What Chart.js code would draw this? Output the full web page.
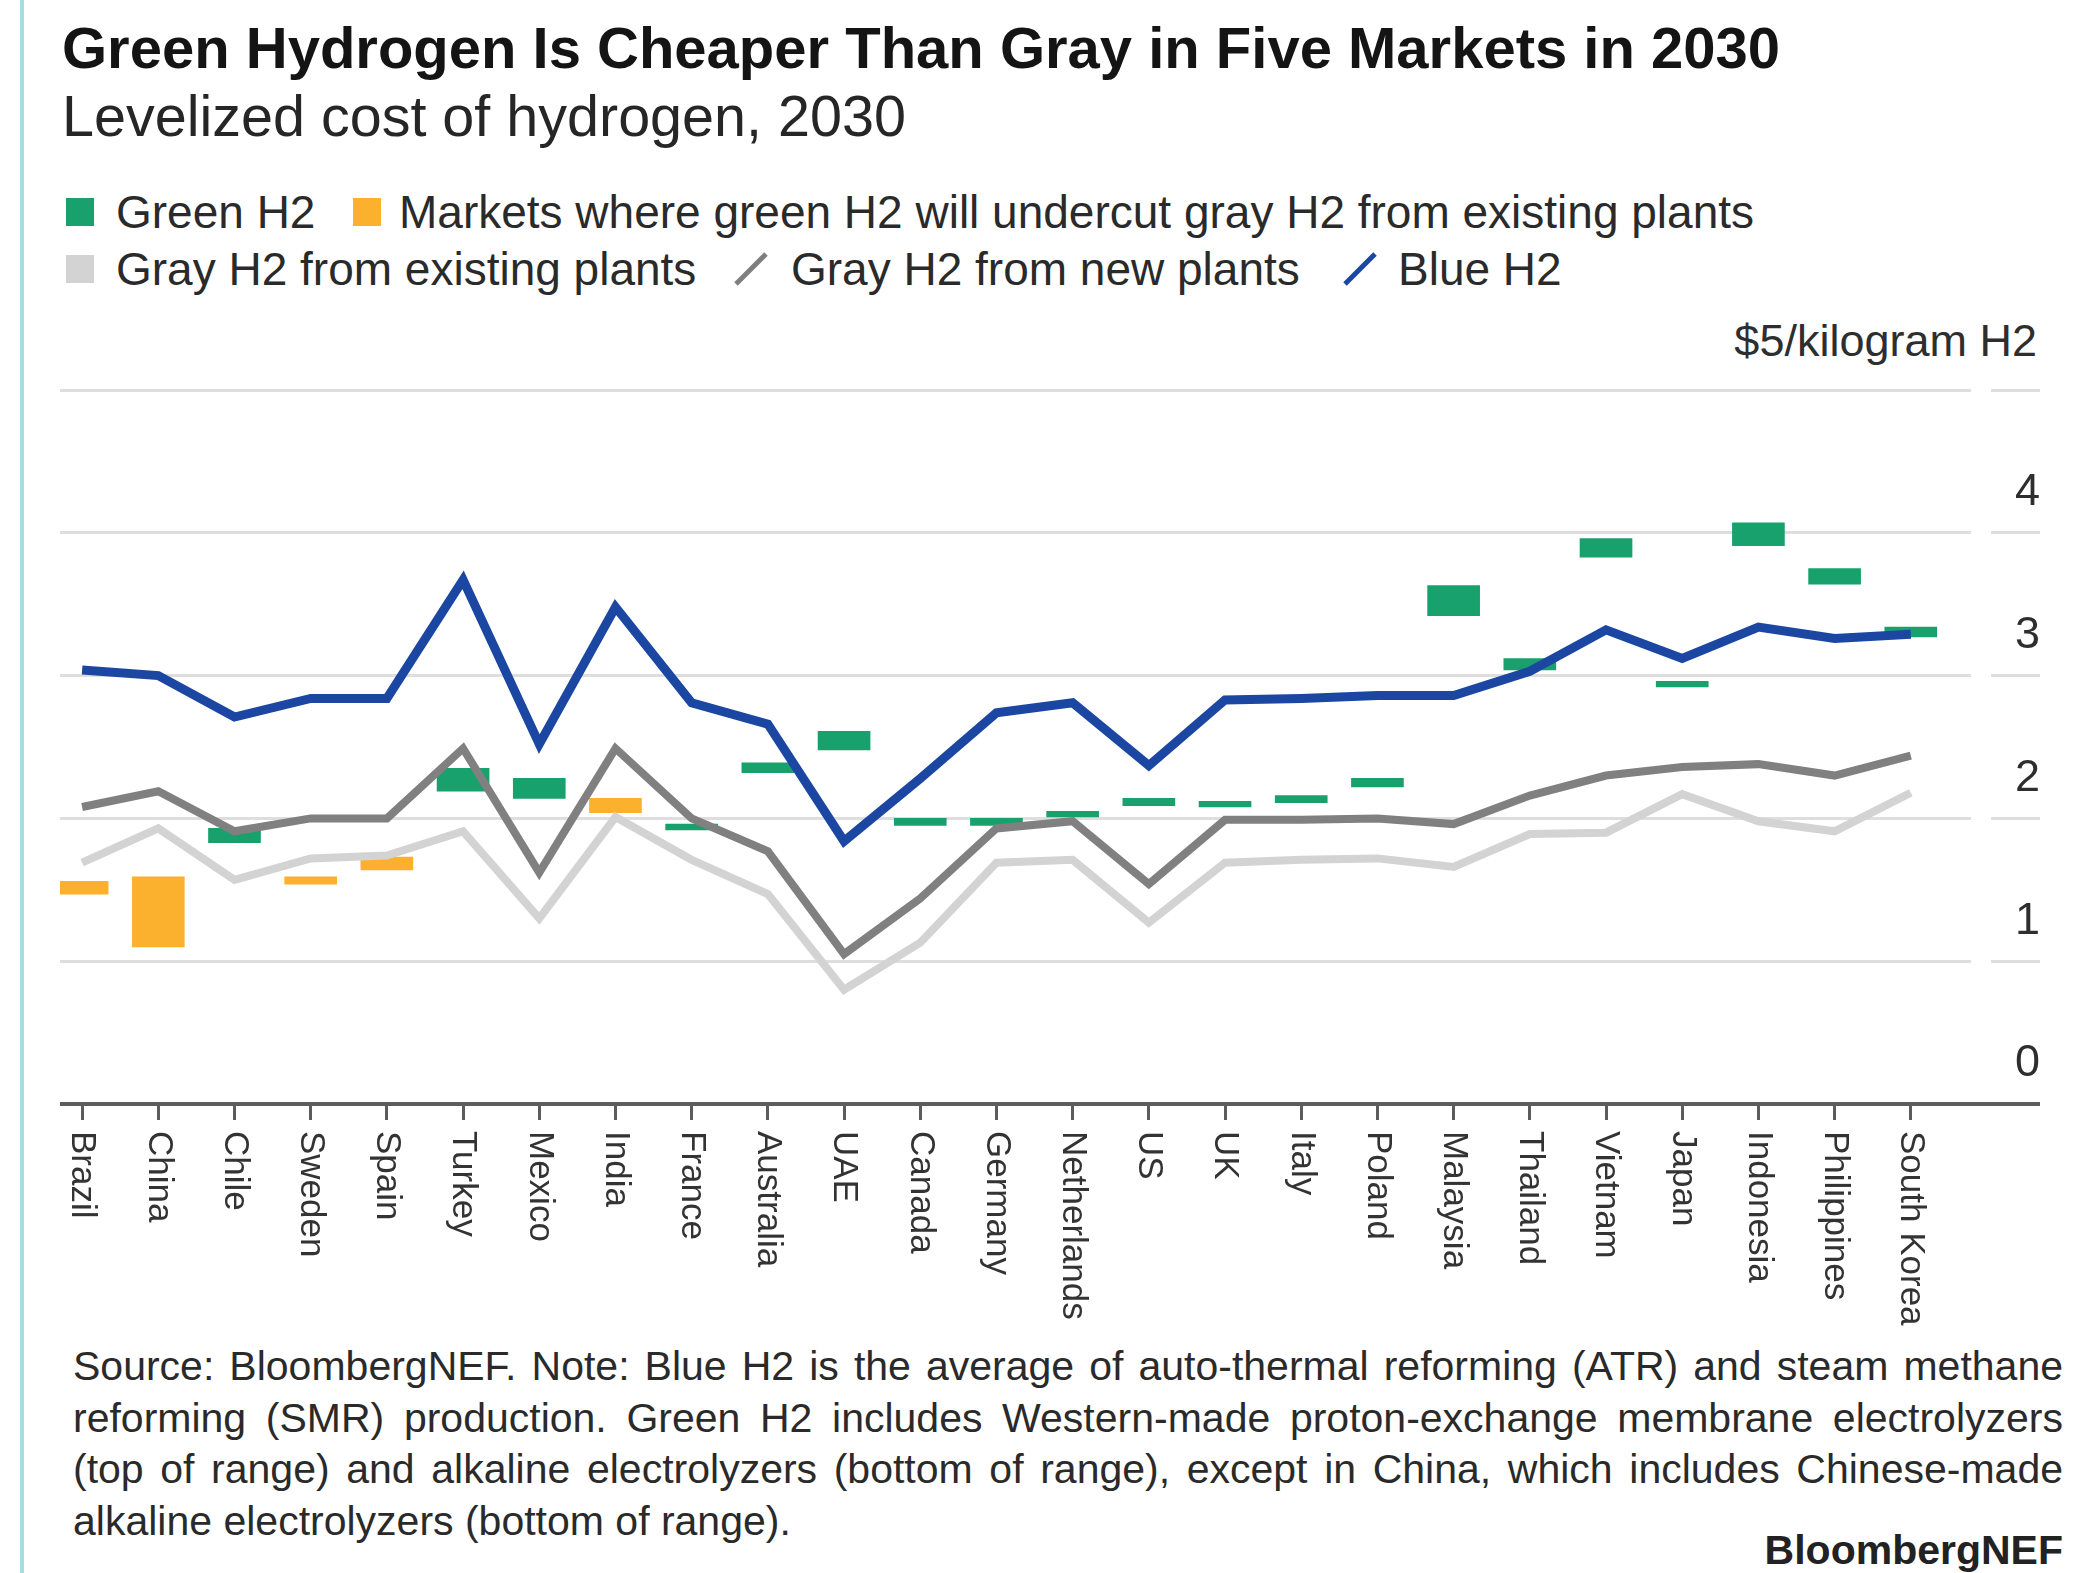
<!DOCTYPE html>
<html>
<head>
<meta charset="utf-8">
<title>Green Hydrogen Is Cheaper Than Gray in Five Markets in 2030</title>
<script src="https://cdn.jsdelivr.net/npm/chart.js@4.4.1/dist/chart.umd.min.js"></script>
<style>
  html, body { margin: 0; padding: 0; background: #fff; }
  body { width: 2074px; height: 1573px; position: relative; overflow: hidden; font-family: "Liberation Sans", Arial, sans-serif; color: #2e2e2e; }
  .edge { position: absolute; left: 20px; top: 0; width: 4px; height: 1573px; background: #a9dbe3; }
  .title { position: absolute; left: 62px; top: 19px; font-size: 58px; line-height: 58px; font-weight: bold; color: #141414; white-space: nowrap; }
  .subtitle { position: absolute; left: 62px; top: 87px; font-size: 57.5px; line-height: 58px; color: #262626; white-space: nowrap; }
  .leg { position: absolute; font-size: 46px; line-height: 46px; white-space: nowrap; color: #2a2a2a; }
  .sw { position: absolute; width: 28px; height: 28px; }
  .slash { position: absolute; width: 40px; height: 40px; }
  .unit { position: absolute; right: 37px; top: 318px; font-size: 45px; line-height: 45px; color: #2e2e2e; white-space: nowrap; }
  #chartBox { position: absolute; left: 0; top: 300px; width: 2074px; height: 1040px; }
  .note { position: absolute; left: 73px; top: 1343px; width: 1990px; font-size: 41px; color: #2a2a2a; }
  .note div { height: 51.5px; line-height: 46px; white-space: nowrap; text-align: justify; text-align-last: justify; }
  .note div.last { text-align-last: left; }
  .brand { position: absolute; right: 11px; top: 1529px; font-size: 41px; line-height: 42px; font-weight: bold; color: #222; }
</style>
</head>
<body>
<div class="edge"></div>
<div class="title">Green Hydrogen Is Cheaper Than Gray in Five Markets in 2030</div>
<div class="subtitle">Levelized cost of hydrogen, 2030</div>

<div class="sw" style="left:66px; top:198px; background:#18a06d;"></div>
<div class="leg" style="left:116px; top:189px;">Green H2</div>
<div class="sw" style="left:353px; top:198px; background:#fbb02e;"></div>
<div class="leg" style="left:399px; top:189px;">Markets where green H2 will undercut gray H2 from existing plants</div>

<div class="sw" style="left:66px; top:255px; background:#d3d3d3;"></div>
<div class="leg" style="left:116px; top:246px;">Gray H2 from existing plants</div>
<svg class="slash" style="left:731px; top:249px;" viewBox="0 0 40 40"><line x1="5" y1="35" x2="35" y2="5" stroke="#7f7f7f" stroke-width="5"/></svg>
<div class="leg" style="left:791px; top:246px;">Gray H2 from new plants</div>
<svg class="slash" style="left:1340px; top:249px;" viewBox="0 0 40 40"><line x1="5" y1="35" x2="35" y2="5" stroke="#1b47a3" stroke-width="5"/></svg>
<div class="leg" style="left:1398px; top:246px;">Blue H2</div>

<div class="unit">$5/kilogram H2</div>

<div id="chartBox"><canvas id="chart" width="2074" height="1040"></canvas></div>

<div class="note">
  <div>Source: BloombergNEF. Note: Blue H2 is the average of auto-thermal reforming (ATR) and steam methane</div>
  <div>reforming (SMR) production. Green H2 includes Western-made proton-exchange membrane electrolyzers</div>
  <div>(top of range) and alkaline electrolyzers (bottom of range), except in China, which includes Chinese-made</div>
  <div class="last">alkaline electrolyzers (bottom of range).</div>
</div>
<div class="brand">BloombergNEF</div>

<script>
// markets, left to right
const countries = ['Brazil', 'China', 'Chile', 'Sweden', 'Spain', 'Turkey', 'Mexico', 'India', 'France', 'Australia',
  'UAE', 'Canada', 'Germany', 'Netherlands', 'US', 'UK', 'Italy', 'Poland', 'Malaysia', 'Thailand',
  'Vietnam', 'Japan', 'Indonesia', 'Philippines', 'South Korea'];

// $/kg H2, 2030
const blueH2 = [3.04, 3.00, 2.71, 2.84, 2.84, 3.67, 2.52, 3.48, 2.81, 2.66,
  1.84, 2.28, 2.74, 2.81, 2.37, 2.83, 2.84, 2.86, 2.86, 3.03,
  3.32, 3.12, 3.34, 3.26, 3.29];
const grayNewPlants = [2.08, 2.19, 1.91, 2.00, 2.00, 2.49, 1.62, 2.49, 2.00, 1.77,
  1.05, 1.44, 1.93, 1.98, 1.54, 1.99, 1.99, 2.00, 1.96, 2.16,
  2.30, 2.36, 2.38, 2.30, 2.44];
const grayExistingPlants = [1.69, 1.93, 1.57, 1.72, 1.74, 1.91, 1.30, 2.01, 1.71, 1.47,
  0.80, 1.13, 1.69, 1.71, 1.27, 1.69, 1.71, 1.72, 1.66, 1.89,
  1.90, 2.17, 1.98, 1.91, 2.18];

// green H2 range: alkaline (low) to PEM (high)
const greenLow = [1.47, 1.10, 1.83, 1.54, 1.64, 2.19, 2.14, 2.04, 1.92, 2.32,
  2.48, 1.95, 1.95, 2.01, 2.09, 2.08, 2.11, 2.22, 3.42, 3.04,
  3.83, 2.92, 3.91, 3.64, 3.27];
const greenHigh = [1.56, 1.59, 1.93, 1.59, 1.73, 2.35, 2.28, 2.14, 1.96, 2.39,
  2.61, 2.00, 2.00, 2.05, 2.14, 2.12, 2.16, 2.28, 3.63, 3.12,
  3.96, 2.96, 4.07, 3.75, 3.34];

// markets where green undercuts gray from existing plants
const undercutMarkets = ['Brazil', 'China', 'Sweden', 'Spain', 'India'];

// the top line (5) carries the unit label instead of a number
const yTickLabels = ['0', '1', '2', '3', '4', ''];

const FONT = '"Liberation Sans", Arial, sans-serif';
Chart.defaults.font.family = FONT;

const toPoints = arr => arr.map((v, i) => ({ x: i, y: v }));
const rangeBars = keep => countries
  .map((c, i) => ({ x: i, y: [greenLow[i], greenHigh[i]], c }))
  .filter(d => keep(d.c));

const isZero = c => c.tick && c.tick.value === 0;

// country names read top to bottom under the ticks
const countryLabels = {
  id: 'countryLabels',
  afterDraw(chart) {
    const xs = chart.scales.x;
    const ctx = chart.ctx;
    ctx.save();
    ctx.font = '35px ' + FONT;
    ctx.fillStyle = '#333';
    ctx.textAlign = 'left';
    ctx.textBaseline = 'middle';
    countries.forEach((name, i) => {
      ctx.save();
      ctx.translate(xs.getPixelForValue(i), xs.top + 27);
      ctx.rotate(Math.PI / 2);
      ctx.fillText(name, 0, 0);
      ctx.restore();
    });
    ctx.restore();
  }
};

new Chart(document.getElementById('chart'), {
  type: 'line',
  data: {
    datasets: [
      {
        label: 'Blue H2',
        data: toPoints(blueH2),
        borderColor: '#1b47a3',
        borderWidth: 9,
        pointRadius: 0,
        order: 1
      },
      {
        label: 'Gray H2 from new plants',
        data: toPoints(grayNewPlants),
        borderColor: '#808080',
        borderWidth: 8,
        pointRadius: 0,
        order: 2
      },
      {
        label: 'Gray H2 from existing plants',
        data: toPoints(grayExistingPlants),
        borderColor: '#d3d3d3',
        borderWidth: 8,
        pointRadius: 0,
        order: 3
      },
      {
        type: 'bar',
        label: 'Green H2',
        data: rangeBars(c => !undercutMarkets.includes(c)),
        backgroundColor: '#18a06d',
        barThickness: 52,
        grouped: false,
        order: 10
      },
      {
        type: 'bar',
        label: 'Markets where green H2 will undercut gray H2 from existing plants',
        data: rangeBars(c => undercutMarkets.includes(c)),
        backgroundColor: '#fbb02e',
        barThickness: 52,
        grouped: false,
        order: 11
      }
    ]
  },
  options: {
    responsive: false,
    animation: false,
    layout: { padding: { left: 60, right: 34, top: 90, bottom: 220 } },
    plugins: {
      legend: { display: false },
      tooltip: { enabled: false }
    },
    scales: {
      x: {
        type: 'linear',
        bounds: 'data',
        min: -0.29,
        max: 24.79,
        offset: false,
        border: { display: false },
        grid: {
          offset: false,
          drawOnChartArea: false,
          drawTicks: true,
          tickLength: 16,
          tickColor: '#5c5c5c',
          tickWidth: 3
        },
        ticks: { display: false, autoSkip: false },
        // one tick per market
        afterBuildTicks: scale => { scale.ticks = countries.map((c, i) => ({ value: i })); }
      },
      y: {
        position: 'right',
        min: 0,
        max: 5,
        border: { display: false },
        grid: {
          color: c => (isZero(c) ? '#5c5c5c' : '#dedede'),
          lineWidth: c => (isZero(c) ? 4 : 3),
          tickColor: c => (isZero(c) ? '#5c5c5c' : '#dedede'),
          tickWidth: c => (isZero(c) ? 4 : 3),
          tickLength: 69,
          tickBorderDash: c => (isZero(c) ? [] : [0, 20, 49, 0])
        },
        ticks: {
          stepSize: 1,
          color: '#2e2e2e',
          font: { size: 45 },
          crossAlign: 'far',
          padding: 0,
          labelOffset: -40,
          callback: v => yTickLabels[v]
        },
        afterFit: scale => { scale.width = 69; }
      }
    }
  },
  plugins: [countryLabels]
});
</script>
</body>
</html>
